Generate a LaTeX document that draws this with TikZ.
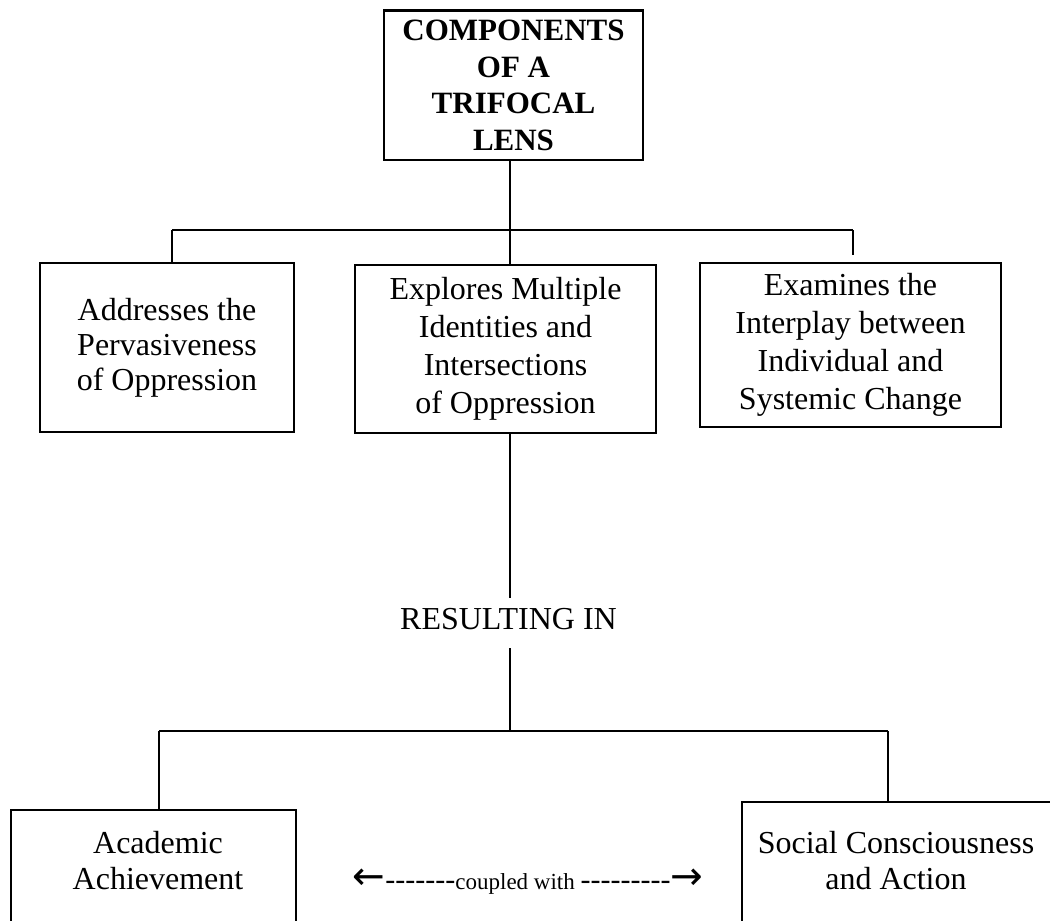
\documentclass[tikz,border=0pt]{standalone}
\usepackage{fontspec}
\setmainfont{Liberation Serif}
\newfontfamily\arrowfont{DejaVu Sans}
\begin{document}
\tikzset{
  box/.style={draw, line width=1.1pt, inner sep=0pt, align=center},
  conn/.style={line width=1pt},
  txt/.style={inner sep=0pt, align=center, font=\fontsize{16}{18}\selectfont},
}
\begin{tikzpicture}[x=0.5pt,y=-0.5pt]
\useasboundingbox (0,0) rectangle (1050,921);
\clip (0,0) rectangle (1050,921);

% top box
\node[box, font=\fontsize{15.5}{18.3}\selectfont\bfseries, minimum width=129.5pt, minimum height=74.75pt] (top) at (513.5,85.25) {COMPONENTS\\OF A\\TRIFOCAL\\LENS};

% second level
\node[box, font=\fontsize{16}{17.5}\selectfont, minimum width=127pt, minimum height=84.5pt] (addr) at (167,347.5) {Addresses the\\Pervasiveness\\of Oppression};
\node[box, font=\fontsize{16}{19}\selectfont, minimum width=150.5pt, minimum height=84pt] (mid) at (505.5,349) {Explores Multiple\\Identities and\\Intersections\\of Oppression};
\node[box, font=\fontsize{16}{19}\selectfont, minimum width=150.5pt, minimum height=82pt] (exam) at (850.5,345) {Examines the\\Interplay between\\Individual and\\Systemic Change};

% resulting in
\node[inner sep=0pt, font=\fontsize{16}{18}\selectfont] (res) at (508.5,619.5) {RESULTING IN};

% bottom boxes
\node[box, anchor=north west, minimum width=142.5pt, minimum height=100pt] (acadbox) at (10,809) {};
\node[txt] (acad) at (158,861) {Academic\\Achievement};
\node[box, anchor=north west, minimum width=200pt, minimum height=100pt] (socbox) at (741,801) {};
\node[txt] (soc) at (896,861) {Social Consciousness\\and Action};

% coupled with
\node[inner sep=0pt, font=\fontsize{15}{18}\selectfont] (coupled) at (528,882) {{\arrowfont\fontsize{19.5}{20}\selectfont ←}-{}-{}-{}-{}-{}-{}-{\fontsize{11.5}{14}\selectfont coupled with }-{}-{}-{}-{}-{}-{}-{}-{}-{\arrowfont\fontsize{19.5}{20}\selectfont →}};

% connectors
\coordinate (j1) at (509.5,230);
\coordinate (b1l) at (172,230);
\coordinate (b1r) at (853,230);
\coordinate (d1r) at (853,255);
\draw[conn] (top.south -| j1) -- (j1) -- (mid.north -| j1);
\draw[conn] (b1l) -- (b1r);
\draw[conn] (b1l) -- (addr.north -| b1l);
\draw[conn] (b1r) -- (d1r);

\coordinate (r1) at (510,598);
\coordinate (r2) at (510,648);
\coordinate (j2) at (510,731);
\coordinate (b2l) at (159,731);
\coordinate (b2r) at (888,731);
\draw[conn] (mid.south -| r1) -- (r1);
\draw[conn] (r2) -- (j2);
\draw[conn] (b2l) -- (b2r);
\draw[conn] (b2l) -- (acadbox.north -| b2l);
\draw[conn] (b2r) -- (socbox.north -| b2r);
\end{tikzpicture}
\end{document}
